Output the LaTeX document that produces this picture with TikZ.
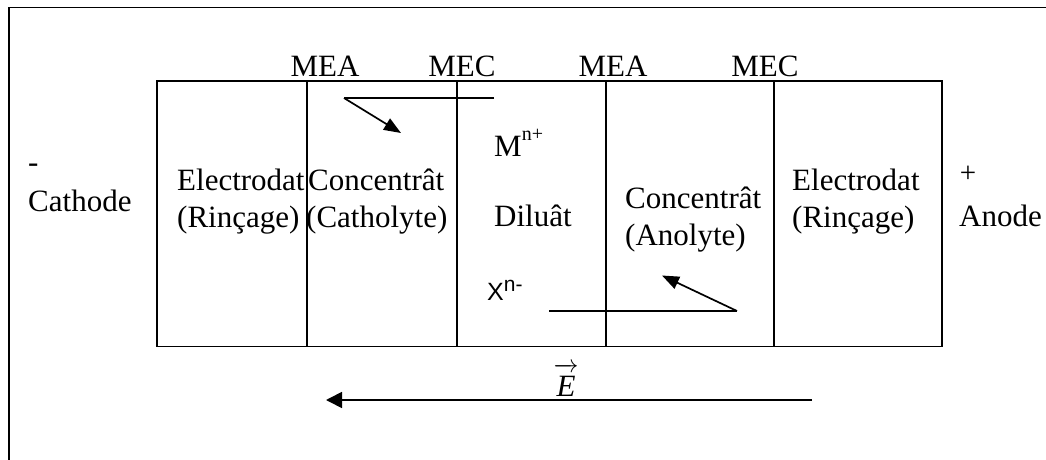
\documentclass[tikz,border=0pt]{standalone}
\usepackage{amsmath}
\usepackage{fontspec}
\setmainfont{Liberation Serif}
\newfontfamily\arialfont{Liberation Sans}
\usetikzlibrary{arrows.meta}
\begin{document}
\begin{tikzpicture}[x=1pt,y=-1pt,
  lbl/.style={inner sep=0pt, anchor=base west, font=\fontsize{31}{37}\selectfont},
  memb/.style={inner sep=0pt, anchor=base, font=\fontsize{31}{37}\selectfont},
  frameline/.style={line width=1.8pt},
  wall/.style={line width=1.7pt},
  ion/.style={line width=1.7pt,-{Triangle[length=17pt,width=13pt]}},
  field/.style={line width=1.7pt,-{Triangle[length=16pt,width=16pt]}}]
\useasboundingbox (0,0) rectangle (1046,460);
% outer frame (top and left sides only)
\draw[frameline] (8.7,460) -- (8.7,7.5) -- (1046,7.5);
% cell compartments
\draw[wall] (157,81) rectangle (942,346.5);
\foreach \xx in {307,457,606,774} \draw[wall] (\xx,81) -- (\xx,346.5);
% membrane labels
\node[memb] (mea1) at (325,76.5) {MEA};
\node[memb] (mec1) at (462,76.5) {MEC};
\node[memb] (mea2) at (613,76.5) {MEA};
\node[memb] (mec2) at (765,76.5) {MEC};
% electrodes
\node[lbl] (minus) at (28,172) {-};
\node[lbl] (cathode) at (28,211) {Cathode};
\node[inner sep=0pt, anchor=base, font=\fontsize{29}{33}\selectfont] (plus) at (968,182.5) {+};
\node[lbl] (anode) at (959,226) {Anode};
% compartments text
\node[lbl] (el1a) at (177,190) {Electrodat};
\node[lbl] (el1b) at (177,227) {(Rinçage)};
\node[lbl] (co1a) at (308,190) {Concentrât};
\node[lbl] (co1b) at (306,227) {(Catholyte)};
\node[lbl] (mion) at (494,156.5) {M\raisebox{16pt}{\fontsize{20}{20}\selectfont n+}};
\node[lbl] (dil) at (494,226) {Diluât};
\node[inner sep=0pt, anchor=base west, font=\arialfont\fontsize{25}{29}\selectfont] (xion) at (487,300) {X\raisebox{9pt}{\fontsize{21}{21}\selectfont n-}};
\node[lbl] (co2a) at (625,208) {Concentrât};
\node[lbl] (co2b) at (625,245) {(Anolyte)};
\node[lbl] (el2a) at (792,190) {Electrodat};
\node[lbl] (el2b) at (792,227) {(Rinçage)};
% ion migration arrows
\coordinate (a1s) at (494,98);
\coordinate (a1m) at (344,98);
\coordinate (a1e) at (401,133);
\draw[wall] (a1s) -- (a1m);
\draw[ion] (a1m) -- (a1e);
\coordinate (a2s) at (549,311);
\coordinate (a2m) at (737,311);
\coordinate (a2e) at (662,275.5);
\draw[wall] (a2s) -- (a2m);
\draw[ion] (a2m) -- (a2e);
% electric field
\coordinate (fs) at (812,400);
\coordinate (fe) at (326,400);
\draw[field] (fs) -- (fe);
\node[inner sep=0pt, anchor=base, font=\fontsize{31}{37}\selectfont] (E) at (566,396) {$\overrightarrow{\textit{E}\vphantom{\rule{0pt}{24pt}}}$};
\end{tikzpicture}
\end{document}
